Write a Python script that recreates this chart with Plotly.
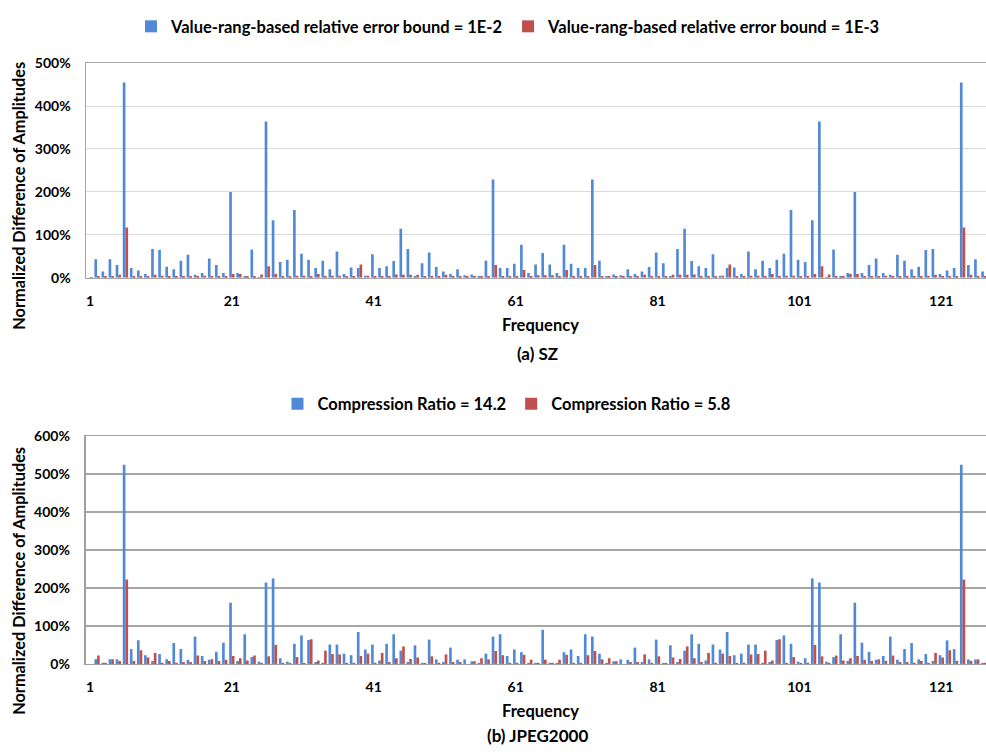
import plotly.graph_objects as go

freq = list(range(1, 129))

sz_1e2 = [0, 43, 15, 43, 30, 455, 23, 17, 9, 67,
          65, 26, 20, 40, 54, 7, 11, 45, 30, 11,
          200, 11, 2, 66, 1, 364, 134, 37, 42, 158,
          56, 42, 23, 40, 20, 61, 9, 24, 23, 5,
          55, 23, 27, 39, 114, 67, 2, 34, 59, 25,
          15, 9, 20, 6, 8, 4, 40, 229, 23, 23,
          33, 77, 11, 31, 58, 31, 11, 77, 33, 23,
          23, 229, 40, 4, 8, 6, 20, 9, 15, 25,
          59, 34, 2, 67, 114, 39, 27, 23, 55, 5,
          23, 24, 9, 61, 20, 40, 23, 42, 56, 158,
          42, 37, 134, 364, 1, 66, 2, 11, 200, 11,
          30, 45, 11, 7, 54, 40, 20, 26, 65, 67,
          9, 17, 23, 455, 30, 43, 15, 43]

sz_1e3 = [1, 2, 2, 3, 7, 117, 2, 2, 4, 7,
          5, 4, 2, 4, 2, 2, 5, 2, 3, 4,
          9, 9, 4, 2, 8, 27, 9, 2, 3, 5,
          5, 3, 9, 2, 5, 5, 3, 4, 31, 5,
          4, 2, 3, 8, 7, 7, 7, 4, 4, 2,
          7, 2, 2, 2, 4, 2, 4, 30, 2, 4,
          2, 18, 3, 6, 6, 6, 3, 18, 2, 4,
          2, 30, 4, 2, 4, 2, 2, 2, 7, 2,
          4, 4, 7, 7, 7, 8, 3, 2, 4, 5,
          31, 4, 3, 5, 5, 2, 9, 3, 5, 5,
          3, 2, 9, 27, 8, 2, 4, 9, 9, 4,
          3, 2, 5, 2, 2, 4, 2, 4, 5, 7,
          4, 2, 2, 117, 7, 3, 2, 2]

jp_14 = [0, 12, 3, 12, 12, 524, 39, 62, 23, 8,
         26, 12, 55, 39, 11, 72, 21, 11, 32, 56,
         161, 8, 78, 18, 6, 214, 225, 15, 6, 53,
         75, 63, 5, 3, 51, 51, 27, 23, 84, 38,
         51, 9, 53, 78, 35, 5, 49, 2, 64, 12,
         5, 43, 11, 12, 7, 2, 27, 72, 78, 21,
         38, 31, 1, 3, 90, 3, 1, 31, 38, 21,
         78, 72, 27, 2, 7, 12, 11, 43, 5, 12,
         64, 2, 49, 5, 35, 78, 53, 9, 51, 38,
         84, 23, 27, 51, 51, 3, 5, 63, 75, 53,
         6, 15, 225, 214, 6, 18, 78, 8, 161, 56,
         32, 11, 21, 72, 11, 39, 55, 12, 26, 8,
         23, 62, 39, 524, 12, 12, 3, 12]

jp_58 = [0, 22, 3, 12, 8, 222, 8, 36, 17, 29,
         3, 8, 3, 5, 5, 22, 8, 12, 8, 11,
         21, 15, 9, 22, 3, 20, 50, 3, 3, 18,
         2, 65, 9, 35, 26, 25, 3, 2, 21, 27,
         3, 29, 5, 15, 46, 13, 17, 1, 20, 3,
         25, 5, 5, 0, 7, 15, 12, 34, 23, 3,
         3, 24, 11, 3, 11, 3, 11, 24, 3, 3,
         23, 34, 12, 15, 7, 0, 5, 5, 25, 3,
         20, 1, 17, 13, 46, 15, 5, 29, 3, 27,
         21, 2, 3, 25, 26, 35, 9, 65, 2, 18,
         3, 3, 50, 20, 3, 22, 9, 15, 21, 11,
         8, 12, 8, 22, 5, 5, 3, 8, 3, 29,
         17, 36, 8, 222, 8, 12, 3, 22]

x_ticks = [1, 21, 41, 61, 81, 101, 121]
y_ticks_top = [0, 100, 200, 300, 400, 500]
y_ticks_bot = [0, 100, 200, 300, 400, 500, 600]

BLUE = "#5089d6"
RED = "#c0504d"
FONT = "Lato"
W, H = 986, 756

fig = go.Figure()
fig.add_trace(go.Bar(x=freq, y=sz_1e2, name="Value-rang-based relative error bound = 1E-2",
                     marker=dict(color=BLUE, line=dict(width=0)), xaxis="x", yaxis="y", legend="legend"))
fig.add_trace(go.Bar(x=freq, y=sz_1e3, name="Value-rang-based relative error bound = 1E-3",
                     marker=dict(color=RED, line=dict(width=0)), xaxis="x", yaxis="y", legend="legend"))
fig.add_trace(go.Bar(x=freq, y=jp_14, name="Compression Ratio = 14.2",
                     marker=dict(color=BLUE, line=dict(width=0)), xaxis="x2", yaxis="y2", legend="legend2"))
fig.add_trace(go.Bar(x=freq, y=jp_58, name="Compression Ratio = 5.8",
                     marker=dict(color=RED, line=dict(width=0)), xaxis="x2", yaxis="y2", legend="legend2"))

def py(px):
    return 1 - px / H

x_dom = [85.5 / W, 1.0]
tickfont = dict(family=FONT, size=14, color="#000", weight="bold")
xcommon = dict(range=[0.5, 127.3], tickmode="array", tickvals=x_ticks,
               ticktext=[str(t) for t in x_ticks], tickfont=tickfont,
               ticks="outside", ticklen=10, tickcolor="rgba(0,0,0,0)",
               showgrid=False, showline=True, linewidth=1, zeroline=False, fixedrange=True)

fig.update_layout(
    width=W, height=H, margin=dict(l=0, r=0, t=0, b=0),
    paper_bgcolor="white", plot_bgcolor="white",
    barmode="group", bargap=0.25, bargroupgap=0,
    font=dict(family=FONT, color="#000"),
    xaxis=dict(domain=x_dom, anchor="y", linecolor="#a6a6a6", mirror=True, **xcommon),
    yaxis=dict(domain=[py(275), py(55.3)], anchor="x", range=[0, 500],
               tickvals=y_ticks_top, ticktext=[f"{v}%" for v in y_ticks_top],
               tickfont=tickfont, ticks="outside", ticklen=12, tickcolor="rgba(0,0,0,0)",
               showgrid=True, gridcolor="#d9d9d9", gridwidth=1,
               showline=True, linecolor="#a6a6a6", linewidth=1, zeroline=False, fixedrange=True),
    xaxis2=dict(domain=x_dom, anchor="y2", linecolor="#a0a0a0", mirror=True, **xcommon),
    yaxis2=dict(domain=[py(670), py(436.7)], anchor="x2", range=[0, 600],
                tickvals=y_ticks_bot, ticktext=[f"{v}%" for v in y_ticks_bot],
                tickfont=tickfont, ticks="outside", ticklen=12, tickcolor="rgba(0,0,0,0)",
                showgrid=True, gridcolor="#a6a6a6", gridwidth=1.5,
                showline=True, linecolor="#a0a0a0", linewidth=1.5, zeroline=False, fixedrange=True),
    legend=dict(orientation="h", x=508 / W, xanchor="center", y=py(18), yanchor="middle",
                font=dict(family=FONT, size=16.5, weight="bold"), bgcolor="rgba(0,0,0,0)",
                traceorder="normal", itemwidth=30),
    legend2=dict(orientation="h", x=506 / W, xanchor="center", y=py(404), yanchor="middle",
                 font=dict(family=FONT, size=16.5, weight="bold"), bgcolor="rgba(0,0,0,0)",
                 traceorder="normal", itemwidth=30),
)

ann_font = dict(family=FONT, size=16.5, color="#000", weight="bold")
yt_font = dict(family=FONT, size=16.3, color="#000", weight="bold")
sub_font = dict(family=FONT, size=17, color="#000", weight="bold")
annotations = [
    dict(text="Frequency", x=540 / W, y=py(323), xref="paper", yref="paper",
         showarrow=False, font=ann_font, xanchor="center", yanchor="middle"),
    dict(text="(a) SZ", x=537 / W, y=py(352), xref="paper", yref="paper",
         showarrow=False, font=sub_font, xanchor="center", yanchor="middle"),
    dict(text="Normalized Difference of Amplitudes", x=18 / W, y=py(191), xref="paper", yref="paper",
         showarrow=False, font=yt_font, textangle=-90, xanchor="center", yanchor="middle"),
    dict(text="Frequency", x=540 / W, y=py(718), xref="paper", yref="paper",
         showarrow=False, font=ann_font, xanchor="center", yanchor="middle"),
    dict(text="(b) JPEG2000", x=537 / W, y=py(743), xref="paper", yref="paper",
         showarrow=False, font=sub_font, xanchor="center", yanchor="middle"),
    dict(text="Normalized Difference of Amplitudes", x=18 / W, y=py(585), xref="paper", yref="paper",
         showarrow=False, font=yt_font, textangle=-90, xanchor="center", yanchor="middle"),
]
fig.update_layout(annotations=annotations)

fig.write_html("out.html")
